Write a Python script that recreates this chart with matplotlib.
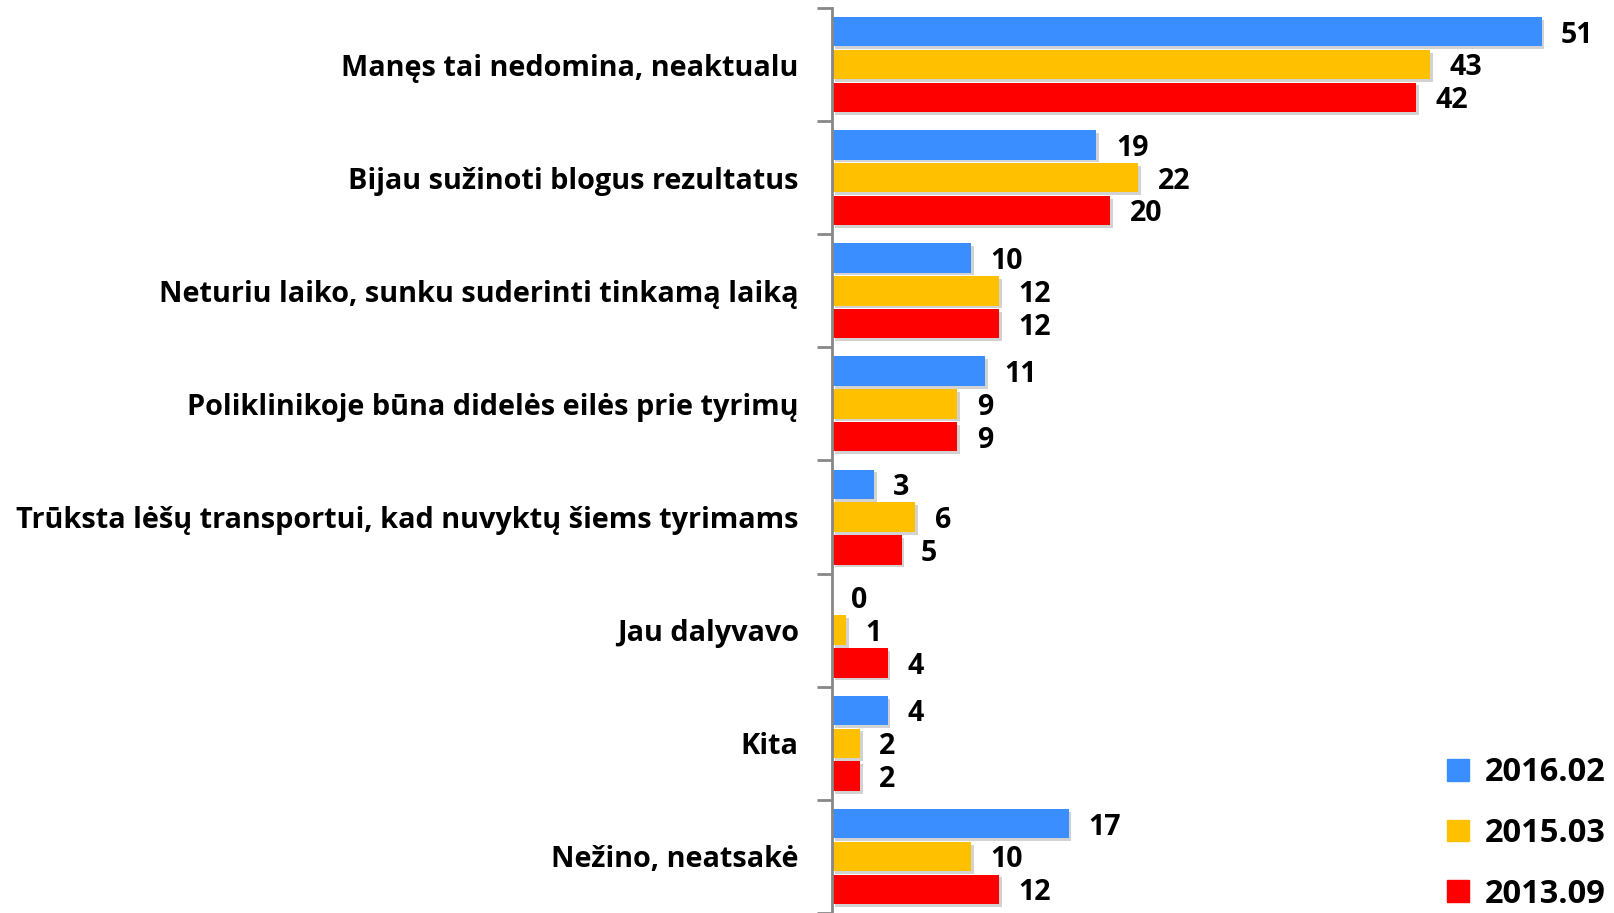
import matplotlib.pyplot as plt
import matplotlib.patheffects as pe
from matplotlib.patches import Patch
import numpy as np

categories = ['Manęs tai nedomina, neaktualu',
              'Bijau sužinoti blogus rezultatus',
              'Neturiu laiko, sunku suderinti tinkamą laiką',
              'Poliklinikoje būna didelės eilės prie tyrimų',
              'Trūksta lėšų transportui, kad nuvyktų šiems tyrimams',
              'Jau dalyvavo',
              'Kita',
              'Nežino, neatsakė']
series_names = ['2016.02', '2015.03', '2013.09']
v2016 = [51, 19, 10, 11, 3, 0, 4, 17]
v2015 = [43, 22, 12, 9, 6, 1, 2, 10]
v2013 = [42, 20, 12, 9, 5, 4, 2, 12]
colors = ['#3A8EFF', '#FFC000', '#FF0000']

plt.rcParams['font.family'] = ['Open Sans', 'DejaVu Sans']
plt.rcParams['font.weight'] = 'bold'

fig = plt.figure(figsize=(16.14, 9.13), dpi=100)
ax = fig.add_axes([832 / 1614, 0.0, 1 - 832 / 1614, 1 - 8 / 913])

y = np.arange(len(categories))
step = 0.29
h = 0.26
shadow = [pe.SimplePatchShadow(offset=(2, -2), shadow_rgbFace='gray', alpha=0.35), pe.Normal()]
for i, (vals, name) in enumerate(zip([v2016, v2015, v2013], series_names)):
    pos = y + (i - 1) * step
    bars = ax.barh(pos, vals, height=h, color=colors[i])
    for b in bars:
        b.set_path_effects(shadow)
    for p, v in zip(pos, vals):
        ax.text(v + 1.4, p + 0.03, str(v), va='center', ha='left',
                fontsize=20.5, fontweight='bold')

ax.set_ylim(len(categories) - 0.5, -0.5)
ax.set_xlim(0, 56.2)
ax.set_yticks(y)
ax.set_yticklabels(categories, fontsize=20.8, fontweight='bold')
ax.set_yticks(np.arange(len(categories) + 1) - 0.5, minor=True)
ax.tick_params(axis='y', which='major', length=0, pad=24)
ax.tick_params(axis='y', which='minor', length=11, color='#888888', width=2)
ax.set_xticks([])
for s in ['top', 'right', 'bottom']:
    ax.spines[s].set_visible(False)
ax.spines['left'].set_color('#888888')
ax.spines['left'].set_linewidth(2)

handles = [Patch(color=c, label=n) for c, n in zip(colors, series_names)]
leg = ax.legend(handles=handles, loc='lower right', bbox_to_anchor=(1.027, -0.03),
                frameon=False, fontsize=23.5, handlelength=0.65, handleheight=0.65,
                handletextpad=0.5, labelspacing=0.85)
for t in leg.get_texts():
    t.set_fontweight('bold')

fig.savefig('out.png', dpi=100)
